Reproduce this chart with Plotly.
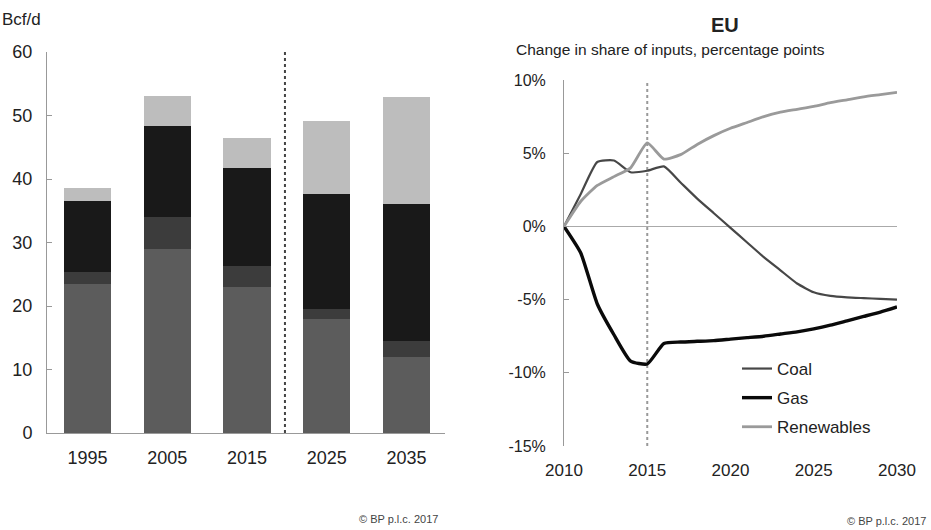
import plotly.graph_objects as go

# ---- Left chart data (Bcf/d) ----
bar_years = ["1995", "2005", "2015", "2025", "2035"]
seg_medium = [23.5, 29.0, 23.0, 18.0, 12.0]
seg_dark = [1.9, 5.0, 3.3, 1.5, 2.5]
seg_black = [11.2, 14.3, 15.4, 18.1, 21.5]
seg_light = [2.0, 4.7, 4.7, 11.6, 16.9]
left_yticks = [0, 10, 20, 30, 40, 50, 60]

# ---- Right chart data (EU, change in share, pp) ----
years = list(range(2010, 2031))
coal = [0, 2.2, 4.4, 4.5, 3.7, 3.8, 4.1, 3.0, 1.9, 0.9, -0.1, -1.1, -2.1, -3.0,
        -3.9, -4.5, -4.75, -4.85, -4.9, -4.95, -5.0]
gas = [0, -1.8, -5.3, -7.4, -9.2, -9.4, -8.0, -7.9, -7.85, -7.8, -7.7, -7.6,
       -7.5, -7.35, -7.2, -7.0, -6.75, -6.45, -6.15, -5.85, -5.5]
renew = [0, 1.7, 2.8, 3.4, 4.0, 5.7, 4.6, 4.9, 5.6, 6.2, 6.7, 7.1, 7.5, 7.8,
         8.0, 8.2, 8.45, 8.65, 8.85, 9.0, 9.15]
right_yticks = [-15, -10, -5, 0, 5, 10]
right_yticktext = ["-15%", "-10%", "-5%", "0%", "5%", "10%"]
right_xticks = [2010, 2015, 2020, 2025, 2030]

W, H = 931, 530
FONT = "Liberation Sans, Arial, sans-serif"
TXT = "#222222"

fig = go.Figure()

bar_w = 0.59
for vals, col in [(seg_medium, "#5c5c5c"), (seg_dark, "#3c3c3c"),
                  (seg_black, "#191919"), (seg_light, "#bdbdbd")]:
    fig.add_trace(go.Bar(x=bar_years, y=vals, marker=dict(color=col, line=dict(width=0)),
                         width=bar_w, showlegend=False, xaxis="x", yaxis="y"))

for name, vals, col, w in [("Coal", coal, "#474747", 2.2),
                           ("Gas", gas, "#0a0a0a", 3.4),
                           ("Renewables", renew, "#9a9a9a", 2.8)]:
    fig.add_trace(go.Scatter(x=years, y=vals, mode="lines", name=name,
                             line=dict(color=col, width=w, shape="spline", smoothing=0.5),
                             legendgroup=name, xaxis="x2", yaxis="y2"))

def px_x(p):
    return p / W

def px_y(p):
    return (H - p) / H

fig.update_layout(
    width=W, height=H,
    margin=dict(l=0, r=0, t=0, b=0, autoexpand=False),
    paper_bgcolor="white", plot_bgcolor="white",
    font=dict(family=FONT, color=TXT),
    barmode="stack",
    xaxis=dict(domain=[px_x(47), px_x(445)], type="category", range=[-0.508, 4.483],
               showline=True, linecolor="#999999", linewidth=1, ticks="",
               tickfont=dict(size=18), ticklabelstandoff=8, showgrid=False, zeroline=False,
               fixedrange=True, automargin=False),
    yaxis=dict(domain=[px_y(433), px_y(52)], range=[0, 60], tickvals=left_yticks,
               showline=True, linecolor="#999999", linewidth=1, ticks="inside", ticklen=5,
               tickcolor="#999999", tickfont=dict(size=18), ticklabelstandoff=10,
               showgrid=False, zeroline=False, automargin=False),
    xaxis2=dict(domain=[px_x(564), px_x(897)], range=[2010, 2030], tickvals=right_xticks,
                showline=False, ticks="", tickfont=dict(size=17), ticklabelstandoff=12,
                showgrid=False, zeroline=False, anchor="y2", automargin=False),
    yaxis2=dict(domain=[px_y(446), px_y(80)], range=[-15, 10], tickvals=right_yticks,
                ticktext=right_yticktext, showline=True, linecolor="#999999", linewidth=1,
                ticks="inside", ticklen=5, tickcolor="#999999", tickfont=dict(size=16),
                ticklabelstandoff=14, showgrid=False, zeroline=True, zerolinecolor="#aaaaaa",
                zerolinewidth=1, anchor="x2", automargin=False),
    legend=dict(x=px_x(737), y=px_y(351), xanchor="left", yanchor="top",
                font=dict(size=17, color=TXT), bgcolor="rgba(0,0,0,0)",
                tracegroupgap=4, itemwidth=30),
    showlegend=True,
)

fig.add_shape(type="line", xref="x", yref="y", x0=2.476, x1=2.476, y0=0, y1=60,
              line=dict(color="#444444", width=2, dash="dot"))
fig.add_shape(type="line", xref="x2", yref="y2", x0=2015, x1=2015, y0=-15, y1=10,
              line=dict(color="#999999", width=2, dash="dot"), layer="below")

fig.add_annotation(text="Bcf/d", xref="paper", yref="paper", x=0, y=px_y(20),
                   xanchor="left", yanchor="middle", xshift=0, showarrow=False,
                   font=dict(size=17, color=TXT))
fig.add_annotation(text="<b>EU</b>", xref="paper", yref="paper", x=px_x(725), y=px_y(25),
                   xanchor="center", yanchor="middle", showarrow=False,
                   font=dict(size=20, color=TXT))
fig.add_annotation(text="Change in share of inputs, percentage points", xref="paper",
                   yref="paper", x=px_x(514), y=px_y(50), xanchor="left", yanchor="middle",
                   showarrow=False, font=dict(size=15.5, color=TXT))
fig.add_annotation(text="© BP p.l.c. 2017", xref="paper", yref="paper", x=px_x(398),
                   y=px_y(519), xanchor="center", yanchor="middle", showarrow=False,
                   font=dict(size=11, color="#444444"))
fig.add_annotation(text="© BP p.l.c. 2017", xref="paper", yref="paper", x=px_x(928),
                   y=px_y(521), xanchor="right", yanchor="middle", showarrow=False,
                   font=dict(size=11, color="#444444"))

fig.write_html("out.html", config={"displayModeBar": False},
               post_script="document.body.style.margin='0';document.body.style.overflow='hidden';")
